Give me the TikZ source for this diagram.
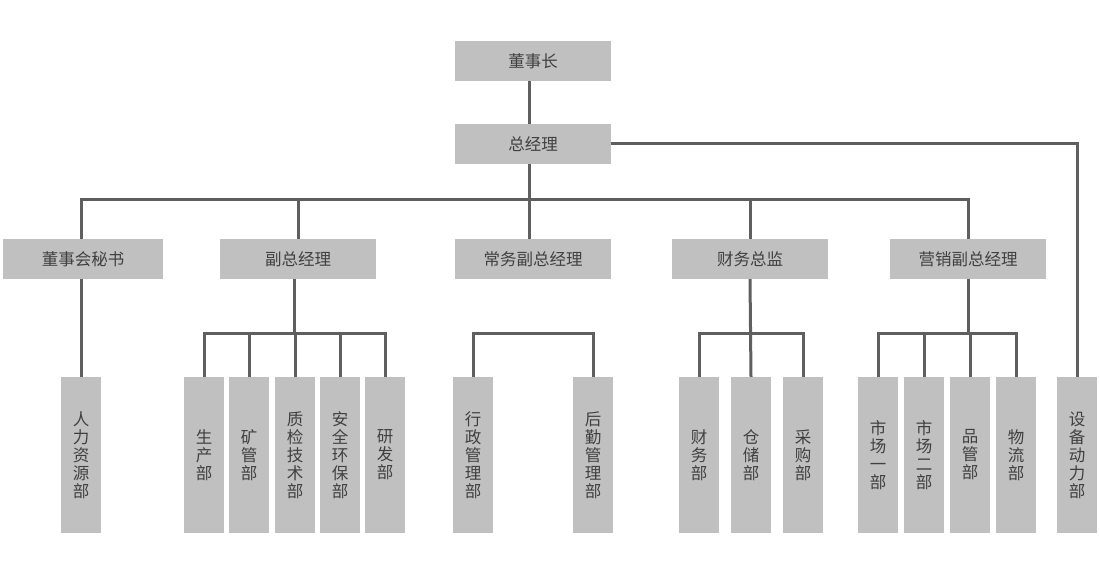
\documentclass[tikz,border=0pt]{standalone}
\usepackage{fontspec}
\setmainfont{Noto Sans CJK SC}
\usepackage{xcolor}
\usepackage{tikz}
\usetikzlibrary{positioning,calc}
\definecolor{boxgray}{HTML}{C0C0C0}
\definecolor{wiregray}{HTML}{5F5F5F}
\definecolor{txtgray}{HTML}{404040}

\begin{document}
\begin{tikzpicture}[
  x=1pt, y=-1pt,
  headbox/.style={fill=boxgray, minimum width=156pt, minimum height=40pt, inner sep=0pt,
                  text=txtgray, font=\fontsize{16.5}{18}\selectfont},
  deptbox/.style={fill=boxgray, minimum width=40pt, minimum height=156pt, inner sep=0pt,
                  text width=40pt, align=center, text=txtgray, font=\fontsize{16.5}{18}\selectfont},
  wire/.style={draw=wiregray, line width=3pt},
]
% Coordinates are screen pixels: x to the right, y downwards.
\useasboundingbox (0,0) rectangle (1100,567);

\def\busy{199}  % main bus below the general manager
\def\rowy{259}  % centre line of the second row
\def\suby{333}  % bus above each group of departments
\def\depy{455}  % centre line of the department columns

% --- Top of the tree
\node[headbox] (chair) at (533,61) {董事长};
\node[headbox] (gm) at (533,144) {总经理};

% --- Second row: \name/\x/\width/\label
\foreach \name/\xx/\ww/\lbl in {sec/83/160/董事会秘书, vgm/298/156/副总经理,
    evgm/533/156/常务副总经理, cfo/750/156/财务总监, smgm/968/156/营销副总经理} {
  \node[headbox, minimum width=\ww pt] (\name) at (\xx,\rowy) {\lbl};
}

% --- Department columns (one character per line)
\foreach \name/\xx/\lbl in {hr/81/{人\\力\\资\\源\\部},
    prod/204/{生\\产\\部}, mine/249/{矿\\管\\部}, qc/295/{质\\检\\技\\术\\部},
    safe/340/{安\\全\\环\\保\\部}, rd/385/{研\\发\\部},
    admin/473/{行\\政\\管\\理\\部}, logi/593/{后\\勤\\管\\理\\部},
    fin/699/{财\\务\\部}, store/751/{仓\\储\\部}, buy/803/{采\\购\\部},
    mkone/878/{市\\场\\一\\部}, mktwo/924/{市\\场\\二\\部}, qm/970/{品\\管\\部},
    flow/1016/{物\\流\\部}, equip/1077/{设\\备\\动\\力\\部}} {
  \node[deptbox] (\name) at (\xx,\depy) {\lbl};
}

% --- Trunk and main bus
\draw[wire] ([xshift=-4pt]chair.south) -- ([xshift=-4pt]gm.north);
\draw[wire] ([xshift=-4pt]gm.south) -- ([xshift=-4pt]evgm.north);
\draw[wire] (sec.north -| hr.north) -- (hr.north |- 0,\busy) -- (smgm.north |- 0,\busy) -- (smgm.north);
\foreach \name in {vgm, cfo} {
  \draw[wire] (\name.north) -- (\name.north |- 0,\busy);
}
\draw[wire] (gm.east) -| (equip.north);
\draw[wire] (sec.south -| hr.north) -- (hr.north);

% --- Department buses
\draw[wire] (prod.north) |- (rd.north |- 0,\suby) -- (rd.north);
\draw[wire] ([xshift=-4pt]vgm.south) -- ([xshift=-4pt]vgm.south |- 0,\suby);
\foreach \name in {mine, qc, safe} {
  \draw[wire] (\name.north) -- (\name.north |- 0,\suby);
}
\draw[wire] (admin.north) |- (logi.north |- 0,\suby) -- (logi.north);
\draw[wire] (fin.north) |- (buy.north |- 0,\suby) -- (buy.north);
\draw[wire] (cfo.south) -- (store.north);
\draw[wire] (mkone.north) |- (flow.north |- 0,\suby) -- (flow.north);
\draw[wire] (smgm.south) -- (smgm.south |- 0,\suby);
\foreach \name in {mktwo, qm} {
  \draw[wire] (\name.north) -- (\name.north |- 0,\suby);
}
\end{tikzpicture}
\end{document}
